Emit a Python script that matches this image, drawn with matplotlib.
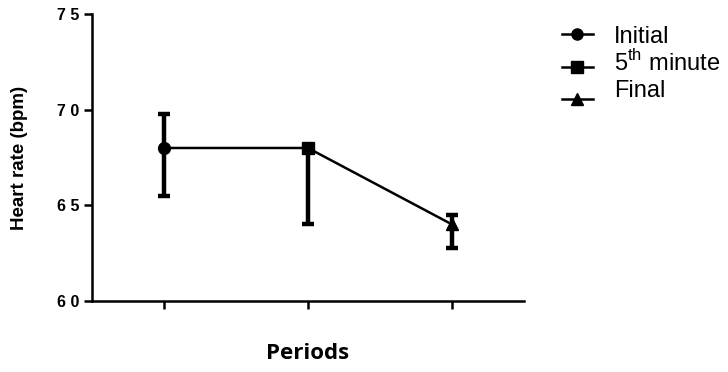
import matplotlib.pyplot as plt
from matplotlib.lines import Line2D
import numpy as np

plt.rcParams['font.family'] = ['Liberation Sans', 'DejaVu Sans']
plt.rcParams['mathtext.fontset'] = 'custom'
plt.rcParams['mathtext.rm'] = 'Liberation Sans'

# data
periods = ['Initial', r'5$^{\mathrm{th}}$ minute', 'Final']
pos = [1, 2, 3]
hr_mean = [68.0, 68.0, 64.0]
err_low = [2.5, 4.0, 1.25]
err_high = [1.8, 0.05, 0.5]
markers = ['o', 's', '^']

W, H = 728, 372
fig = plt.figure(figsize=(7.28, 3.72), dpi=100)
ax = fig.add_axes([0.126, 0.191, 0.594, 0.771])

ax.plot(pos, hr_mean, color='black', lw=1.8, zorder=2)
for p, m, lo, hi, mk in zip(pos, hr_mean, err_low, err_high, markers):
    ax.errorbar([p], [m], yerr=[[lo], [hi]], fmt=mk, color='black', ms=8.5,
                elinewidth=3.2, capsize=4.5, capthick=3.2, zorder=3)

ax.set_xlim(0.5, 3.5)
ax.set_ylim(60, 75)
ax.set_yticks([60, 65, 70, 75])
ax.set_yticklabels(['6 0', '6 5', '7 0', '7 5'], fontweight='bold', fontsize=11.5)
ax.set_xticks(pos)
ax.set_xticklabels([])
ax.spines['top'].set_visible(False)
ax.spines['right'].set_visible(False)
ax.spines['left'].set_linewidth(1.8)
ax.spines['bottom'].set_linewidth(1.8)
ax.tick_params(axis='both', width=1.8, length=5.5)
ax.set_ylabel('Heart rate (bpm)', fontweight='bold', fontsize=13.5, labelpad=21)
ax.set_xlabel('Periods', fontweight='bold', fontsize=16, family=['Open Sans', 'DejaVu Sans'],
              labelpad=21)

# legend drawn by hand (GraphPad style: symbols offset from labels)
line_y = [34, 67, 99]
text_base = [43, 71, 97]
for mk, lab, ly, tb in zip(markers, periods, line_y, text_base):
    fy = 1 - ly / H
    fig.add_artist(Line2D([562 / W, 593 / W], [fy, fy], transform=fig.transFigure,
                          color='black', lw=1.8))
    fig.add_artist(Line2D([577 / W], [fy], transform=fig.transFigure,
                          color='black', marker=mk, ms=8))
    fig.text(614 / W, 1 - tb / H, lab, fontsize=17, va='baseline', ha='left')

fig.savefig('out.png', dpi=100)
